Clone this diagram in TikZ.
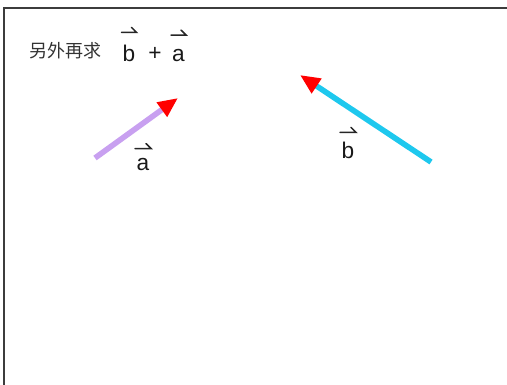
\documentclass[tikz,border=0pt]{standalone}
\usepackage{fontspec}
\setmainfont{Liberation Sans}
\newfontfamily\cjk{Noto Sans CJK SC}
\usetikzlibrary{arrows.meta,calc}
\definecolor{vpurple}{RGB}{200,160,240}
\definecolor{vcyan}{RGB}{30,200,238}
\definecolor{framegray}{RGB}{60,60,60}
\tikzset{
  vecline/.style={line width=4.2pt,-{Triangle[length=15pt,width=12.5pt,color=red]}},
  lettr/.style={inner sep=0pt,font=\fontsize{17pt}{17pt}\selectfont,text=black!90},
  harpstyle/.style={line width=1.1pt,black!85,line cap=round},
}
\newcommand{\myharp}[3]{\draw[harpstyle] ($(#1.north)+(-#3,-#2)$) -- ++(2*#3,0) -- ++(-5,-5);}
\begin{document}
\begin{tikzpicture}[x=0.75pt,y=-0.75pt]
\useasboundingbox (0,0) rectangle (507,385);
% frame
\coordinate (fbl) at (4,386);
\coordinate (ftl) at (4,8);
\coordinate (ftr) at (508,8);
\draw[framegray,line width=1.1pt] (fbl) -- (ftl) -- (ftr);
% title
\node[inner sep=0pt,font=\cjk\fontsize{13.5pt}{13.5pt}\selectfont,text=black!80] (t) at (65.5,51) {另外再求};
\node[lettr] (tb) at (129,53) {b};
\node[lettr] (tp) at (155,54) {+};
\node[lettr] (ta) at (178.5,55.5) {a};
\myharp{tb}{12}{7.5}
\myharp{ta}{14}{7.5}
% vector a
\coordinate (a0) at (95,158);
\coordinate (a1) at (178,98);
\draw[vecline,vpurple] (a0) -- (a1);
\node[lettr] (la) at (143,165) {a};
\myharp{la}{10}{8}
% vector b
\coordinate (b0) at (431,162);
\coordinate (b1) at (300,75);
\draw[vecline,vcyan] (b0) -- (b1);
\node[lettr] (lb) at (348,150) {b};
\myharp{lb}{9}{8}
\end{tikzpicture}
\end{document}
